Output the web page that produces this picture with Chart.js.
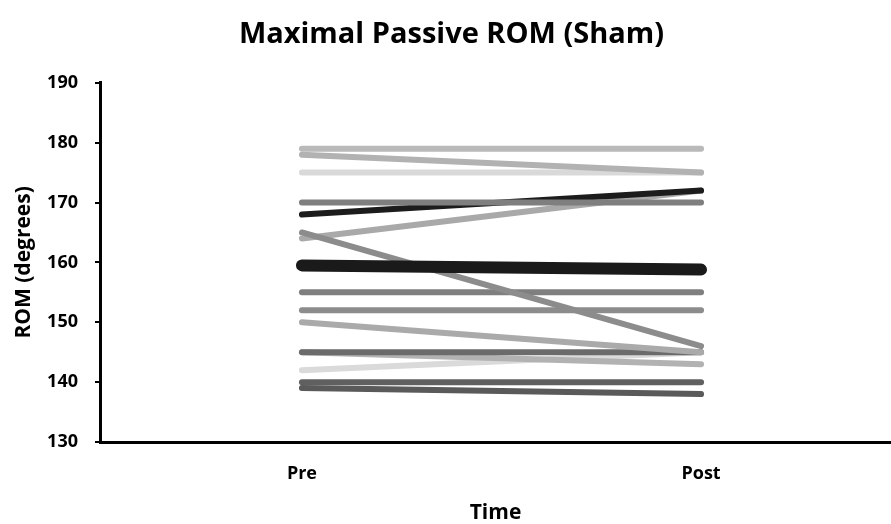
<!DOCTYPE html>
<html><head><meta charset="utf-8">
<script src="https://cdn.jsdelivr.net/npm/chart.js@4"></script>
<style>html,body{margin:0;padding:0;background:#fff;}#wrap{width:891px;height:524px;}</style>
</head><body><div id="wrap"><canvas id="c" width="891" height="524"></canvas></div>
<script>
const categories = ['Pre', 'Post'];
const preValues  = [179, 178, 175, 170, 168, 165, 164, 155, 152, 150, 145, 145, 142, 140, 139];
const postValues = [179, 175, 175, 170, 172, 146, 172, 155, 152, 145, 145, 143, 145, 140, 138];
const meanValues = [159.5, 158.8];
const yTicks = [130, 140, 150, 160, 170, 180, 190];
const seriesColors = ['#b9b9b9','#b2b2b2','#d9d9d9','#7f7f7f','#1c1c1c','#8c8c8c','#a9a9a9',
  '#7f7f7f','#8c8c8c','#aaaaaa','#6b6b6b','#b2b2b2','#dadada','#606060','#5a5a5a'];

const FONT = '"Open Sans", "DejaVu Sans", sans-serif';

function build() {
  const datasets = [];
  datasets.push({
    label: 'Mean',
    data: categories.map((c, i) => ({x: i, y: meanValues[i]})),
    borderColor: '#1a1a1a', borderWidth: 12, borderCapStyle: 'round',
    pointRadius: 0, tension: 0
  });
  preValues.forEach((p, k) => {
    datasets.push({
      label: 'S' + (k + 1),
      data: [{x: 0, y: p}, {x: 1, y: postValues[k]}],
      borderColor: seriesColors[k], borderWidth: 6, borderCapStyle: 'round',
      pointRadius: 0, tension: 0
    });
  });

  new Chart(document.getElementById('c'), {
    type: 'line',
    data: { datasets },
    options: {
      responsive: false,
      animation: false,
      devicePixelRatio: 1,
      layout: { padding: { left: 12, right: 0, top: 0, bottom: 0 } },
      plugins: {
        legend: { display: false },
        tooltip: { enabled: false },
        title: {
          display: true,
          text: 'Maximal Passive ROM (Sham)',
          color: '#000',
          font: { family: FONT, size: 29, weight: 'bold', lineHeight: 1.2 },
          padding: { top: 17, bottom: 31 }
        }
      },
      scales: {
        x: {
          type: 'linear',
          min: -0.506, max: 1.476,
          afterBuildTicks: (axis) => { axis.ticks = categories.map((c, i) => ({value: i})); },
          afterFit: (s) => { s.height = 82; },
          ticks: {
            callback: (v) => categories[v] !== undefined ? categories[v] : '',
            color: '#000', padding: 13, maxRotation: 0,
            font: { family: FONT, size: 18, weight: 'bold' }
          },
          grid: { display: false },
          border: { display: true, color: '#000', width: 3 },
          title: {
            display: true, text: 'Time', color: '#000',
            font: { family: FONT, size: 21, weight: 'bold', lineHeight: 1.0 },
            padding: { top: 0, bottom: 0 }
          }
        },
        y: {
          min: yTicks[0], max: yTicks[yTicks.length - 1],
          afterBuildTicks: (axis) => { axis.ticks = yTicks.map(v => ({value: v})); },
          afterFit: (s) => { s.width = 88; },
          ticks: {
            color: '#000', padding: 17,
            font: { family: FONT, size: 18, weight: 'bold' }
          },
          grid: { display: true, drawOnChartArea: false, drawTicks: true, tickLength: 5, color: '#000', lineWidth: 2 },
          border: { display: true, color: '#000', width: 3 },
          title: {
            display: true, text: 'ROM (degrees)', color: '#000',
            font: { family: FONT, size: 21, weight: 'bold', lineHeight: 1.0 },
            padding: { top: 2, bottom: 0 }
          }
        }
      }
    }
  });
}
Promise.all([
  document.fonts.load('bold 18px "Open Sans"'),
  document.fonts.load('bold 29px "Open Sans"')
]).then(build, build);
</script>
</body></html>
